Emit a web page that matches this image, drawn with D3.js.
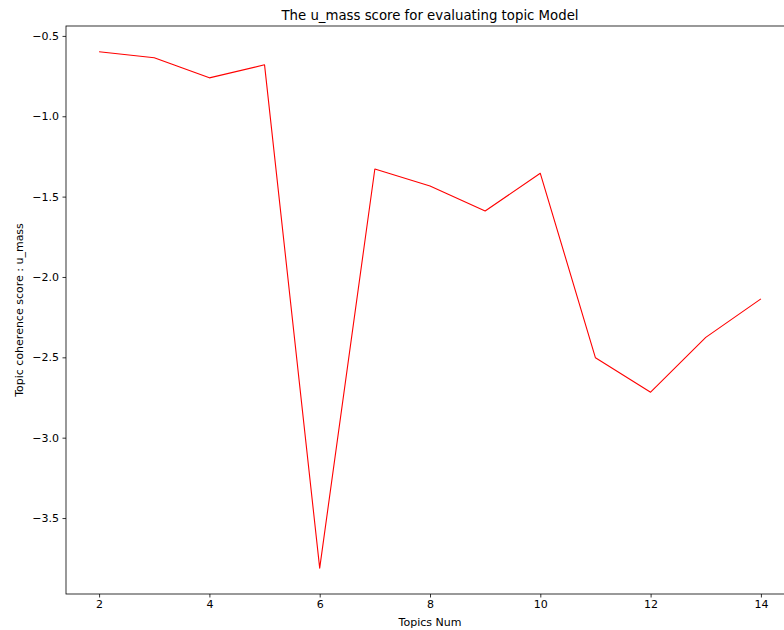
<!DOCTYPE html>
<html><head><meta charset="utf-8">
<script src="https://cdn.jsdelivr.net/npm/d3@7"></script>
<style>
html,body{margin:0;padding:0;background:#fff;overflow:hidden;}
svg{display:block;font-family:"DejaVu Sans",sans-serif;}
</style></head>
<body>
<svg id="chart" width="784" height="630"></svg>
<script>
const topicsNum = [2,3,4,5,6,7,8,9,10,11,12,13,14];
const umassScore = [-0.599,-0.636,-0.761,-0.680,-3.812,-1.328,-1.434,-1.589,-1.355,-2.503,-2.717,-2.376,-2.136];
const xTicks = [2,4,6,8,10,12,14];
const yTicks = [-0.5,-1.0,-1.5,-2.0,-2.5,-3.0,-3.5];
const titleText = "The u_mass score for evaluating topic Model";
const xLabel = "Topics Num";
const yLabel = "Topic coherence score : u_mass";

const svg = d3.select("#chart");
const L = 66, R = 794, T = 26, B = 594;

const xMin = d3.min(topicsNum), xMax = d3.max(topicsNum);
const xPad = (xMax - xMin) * 0.05;
const x = d3.scaleLinear().domain([xMin - xPad, xMax + xPad]).range([L, R]);
const yMin = d3.min(umassScore), yMax = d3.max(umassScore);
const yPad = (yMax - yMin) * 0.05;
const y = d3.scaleLinear().domain([yMin - yPad, yMax + yPad]).range([B, T]);

const fmt = v => (v < 0 ? "\u2212" : "") + Math.abs(v).toFixed(1);

// line
const line = d3.line().x((d,i)=>x(topicsNum[i])).y(d=>y(d));
svg.append("path").datum(umassScore)
  .attr("d", line).attr("fill","none").attr("stroke","#ff0000").attr("stroke-width",1.1)
  .attr("stroke-linejoin","round");

// axes
const xAxis = d3.axisBottom(x).tickValues(xTicks).tickFormat(d3.format("d")).tickSize(3.5).tickPadding(3);
const yAxis = d3.axisLeft(y).tickValues(yTicks).tickFormat(fmt).tickSize(3.5).tickPadding(3.5);

const gx = svg.append("g").attr("transform",`translate(0,${B})`).call(xAxis);
const gy = svg.append("g").attr("transform",`translate(${L},0)`).call(yAxis);
[gx,gy].forEach(g=>{
  g.select(".domain").remove();
  g.selectAll(".tick line").attr("stroke","#000").attr("stroke-width",0.8);
  g.selectAll(".tick text").attr("fill","#000").style("font-size","11px").style("font-family","DejaVu Sans");
});

// spines
svg.append("rect").attr("x",L).attr("y",T).attr("width",R-L).attr("height",B-T)
  .attr("fill","none").attr("stroke","#000").attr("stroke-width",0.8);

// title & labels
svg.append("text").attr("x",(L+R)/2).attr("y",T-6).attr("text-anchor","middle")
  .style("font-size","13.3px").attr("fill","#000").text(titleText);
svg.append("text").attr("x",(L+R)/2).attr("y",626).attr("text-anchor","middle")
  .style("font-size","11px").attr("fill","#000").text(xLabel);
svg.append("text").attr("transform",`translate(23,${(T+B)/2}) rotate(-90)`).attr("text-anchor","middle")
  .style("font-size","11px").attr("fill","#000").text(yLabel);
</script>
</body></html>
